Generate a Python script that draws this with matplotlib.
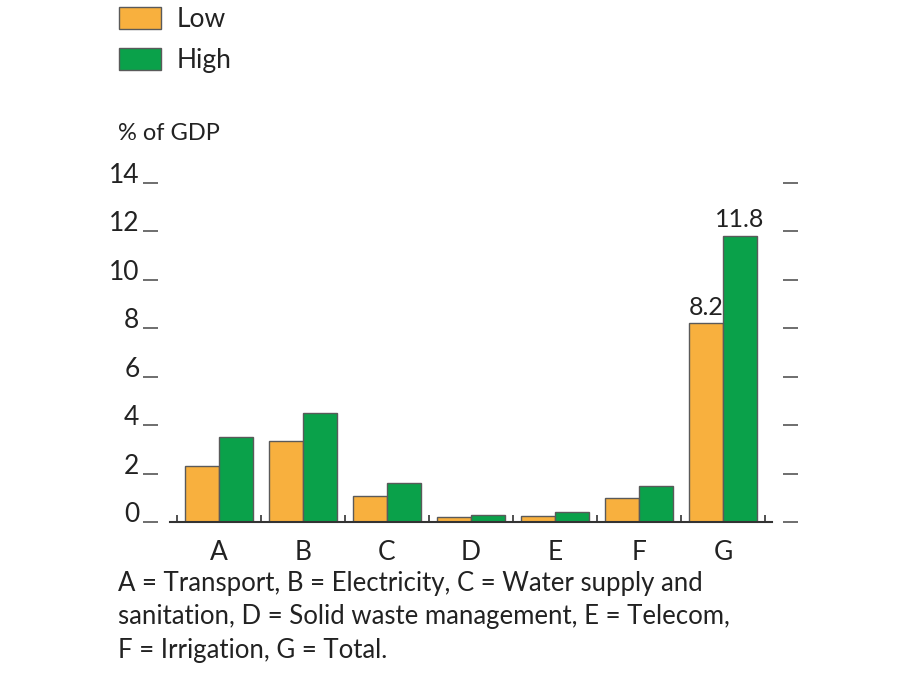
import matplotlib.pyplot as plt
import matplotlib.patches as mpatches
import numpy as np

plt.rcParams['font.family'] = ['Lato', 'DejaVu Sans']

categories = ['A', 'B', 'C', 'D', 'E', 'F', 'G']
low = [2.3, 3.35, 1.07, 0.2, 0.25, 1.0, 8.2]
high = [3.5, 4.5, 1.6, 0.3, 0.4, 1.5, 11.8]
yticks = [0, 2, 4, 6, 8, 10, 12, 14]
caption = ('A = Transport, B = Electricity, C = Water supply and\n'
           'sanitation, D = Solid waste management, E = Telecom,\n'
           'F = Irrigation, G = Total.')

orange = '#F8B03E'
green = '#0AA14A'
edge = '#5a5a5a'
txt = '#222222'

fig = plt.figure(figsize=(9, 6.75), dpi=100)
ax = fig.add_axes([170/900, 1 - 522/675, 602/900, 339/675])

x = np.arange(len(categories))
w = 0.405
ax.bar(x - w/2, low, w, color=orange, edgecolor=edge, linewidth=1, label='Low')
ax.bar(x + w/2, high, w, color=green, edgecolor=edge, linewidth=1, label='High')

# valeurs sur la barre G
ax.text(x[-1] - w/2, low[-1] + 0.2, '8.2', ha='center', va='bottom', fontsize=18, color=txt)
ax.text(x[-1] + w/2, high[-1] + 0.2, '11.8', ha='center', va='bottom', fontsize=18, color=txt)

ax.set_xlim(-0.583, 6.583)
ax.set_ylim(0, 14)

ax.spines['top'].set_visible(False)
ax.spines['left'].set_position(('outward', 9))
ax.spines['left'].set_visible(False)
ax.spines['right'].set_position(('outward', 8))
ax.spines['right'].set_visible(False)
ax.spines['bottom'].set_color('#333333')
ax.spines['bottom'].set_linewidth(1.5)

ax.set_yticks(yticks)
ax.set_yticklabels([str(v) for v in yticks])
ax.tick_params(axis='y', which='major', left=True, right=True, direction='out',
               length=11, width=1.2, color='#555555', labelsize=19, labelcolor=txt, pad=2)
for lab in ax.get_yticklabels():
    lab.set_verticalalignment('baseline')

ax.set_xticks(x)
ax.set_xticklabels(categories)
ax.tick_params(axis='x', which='major', length=0, labelsize=19, labelcolor=txt, pad=13)
ax.set_xticks(np.arange(len(categories) + 1) - 0.5, minor=True)
ax.tick_params(axis='x', which='minor', direction='in', length=5, width=1.2, color='#333333')

fig.text(118/900, 1 - 140/675, '% of GDP', fontsize=17, color=txt, va='baseline')
fig.text(118/900, 1 - 571/675, caption, fontsize=18.5, color=txt, va='top', linespacing=1.42)

handles = [mpatches.Patch(facecolor=orange, edgecolor=edge, label='Low'),
           mpatches.Patch(facecolor=green, edgecolor=edge, label='High')]
fig.legend(handles=handles, loc='upper left', bbox_to_anchor=(119/900, 1 - 7/675),
           frameon=False, fontsize=19, handlelength=1.6, handleheight=0.9,
           handletextpad=0.6, labelspacing=0.6, borderpad=0, borderaxespad=0,
           labelcolor=txt)

fig.savefig('out.png', dpi=100)
